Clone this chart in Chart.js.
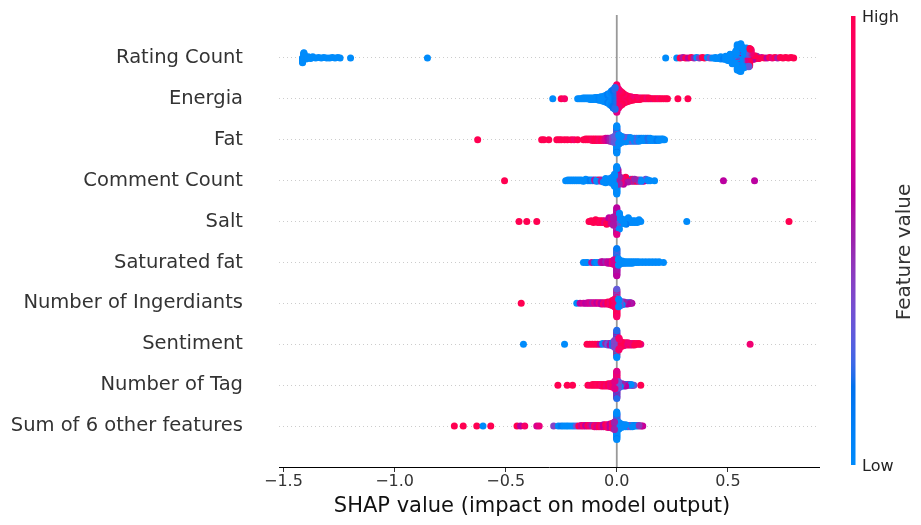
<!DOCTYPE html>
<html>
<head>
<meta charset="utf-8">
<script src="https://cdn.jsdelivr.net/npm/chart.js@4.4.1/dist/chart.umd.min.js"></script>
<style>
  html, body { margin: 0; padding: 0; background: #ffffff; }
  canvas { display: block; }
</style>
</head>
<body>
<canvas id="c" width="921" height="525"></canvas>
<script>
// Features, top row first
const features = [
  "Rating Count", "Energia", "Fat", "Comment Count", "Salt", "Saturated fat",
  "Number of Ingerdiants", "Sentiment", "Number of Tag", "Sum of 6 other features"
];
const xTicks = [-1.5, -1.0, -0.5, 0.0, 0.5];
const xTitle = "SHAP value (impact on model output)";
const colorTitle = "Feature value";

// Samples per feature: [SHAP value, feature value (0 = low .. 1 = high), number of samples]
const ratingCount = [
  [-1.414,0,10],[-1.408,0,10],[-1.398,0,3],[-1.388,0,2],[-1.378,0,2],[-1.368,0,2],[-1.355,0,1],
  [-1.342,0,1],[-1.33,0,1],[-1.318,0,1],[-1.305,0,1],[-1.292,0,1],[-1.28,0,1],[-1.268,0,1],
  [-1.255,0,1],[-1.245,0,1],[-1.198,0,1],[-0.852,0,1],
  [0.22,0,1],[0.27,0,1],[0.285,1,1],[0.298,0.55,1],[0.31,1,1],[0.322,0.6,1],[0.335,1,1],
  [0.348,0.5,1],[0.36,0,1],[0.372,0.45,1],[0.385,1,1],[0.395,1,1],[0.408,0,1],[0.42,0.35,1],
  [0.432,0,1],[0.444,0,2],[0.456,0,2],[0.468,0,3],[0.48,0.1,3],[0.49,0,4],[0.50,0,6],
  [0.51,0,8],[0.52,0,10],[0.528,0.3,4],
  [0.536,0,12],[0.542,0,12],[0.546,0.45,8],[0.552,0,12],[0.558,0,14],[0.562,0.6,8],
  [0.568,0,12],[0.574,0,10],[0.578,0.4,8],[0.584,0,10],[0.588,0.75,8],[0.594,0.3,10],
  [0.598,1,10],[0.604,0.85,8],
  [0.612,0.6,3],[0.62,1,3],[0.63,0.5,2],[0.64,1,2],[0.652,0.7,1],[0.664,1,1],[0.676,0.6,1],
  [0.688,1,1],[0.70,0.8,1],[0.712,1,1],[0.724,0.55,1],[0.736,1,1],[0.748,1,1],[0.76,1,1],
  [0.772,1,1],[0.784,1,1],[0.796,1,1]
];
const energia = [
  [-0.288,0,1],[-0.25,1,1],[-0.235,0.9,1],[-0.176,0,1],[-0.168,0,1],[-0.16,0,1],[-0.152,0,2],
  [-0.144,0,2],[-0.136,0,2],[-0.128,0,2],[-0.12,0,3],[-0.112,0,3],[-0.104,0,3],[-0.096,0,4],
  [-0.088,0,4],[-0.08,0.05,5],[-0.072,0,6],[-0.064,0,7],[-0.056,0,9],[-0.048,0,11],
  [-0.04,0.1,14],[-0.032,0,17],[-0.024,0.05,22],[-0.016,0.15,27],[-0.008,0.2,32],
  [0,0.35,10],[0,0.55,10],[0,0.75,10],[0,0.9,10],
  [0.008,0.85,28],[0.016,0.95,22],[0.024,1,18],[0.032,0.9,14],[0.04,1,11],[0.048,0.95,9],
  [0.056,1,7],[0.064,0.85,6],[0.072,1,5],[0.08,1,4],[0.088,0.9,4],[0.096,1,3],[0.104,1,3],
  [0.112,0.8,2],[0.12,1,2],[0.128,1,2],[0.136,0.85,2],[0.144,1,2],[0.152,1,1],[0.16,0.7,1],
  [0.168,1,1],[0.176,1,1],[0.184,1,1],[0.192,0.9,1],[0.2,1,1],[0.21,1,1],[0.22,1,1],
  [0.228,1,1],[0.275,1,1],[0.32,1,1]
];
const fat = [
  [-0.626,1,1],[-0.338,1,1],[-0.328,1,1],[-0.306,1,1],[-0.27,1,1],[-0.26,1,1],[-0.25,1,1],
  [-0.235,1,1],[-0.222,1,1],[-0.205,1,1],[-0.192,0.9,1],[-0.176,1,1],[-0.15,1,1],[-0.14,1,2],
  [-0.13,1,2],[-0.12,1,2],[-0.11,0.95,3],[-0.10,1,3],[-0.09,1,3],[-0.08,0.9,3],[-0.07,1,3],
  [-0.06,0.85,3],[-0.05,0.75,4],[-0.04,0.6,4],[-0.03,0.5,5],[-0.02,0.4,7],[-0.01,0.3,10],
  [0,0,12],[0,0.15,10],[0,0,10],[0,0.4,8],
  [0.01,0,14],[0.02,0,10],[0.03,0.3,8],[0.04,0,7],[0.05,0.35,6],[0.06,0,6],[0.07,0.3,5],
  [0.08,0,5],[0.09,0.25,5],[0.10,0,5],[0.11,0.1,4],[0.12,0,4],[0.13,0,4],[0.14,0.2,4],
  [0.15,0,4],[0.16,0,3],[0.17,0,3],[0.18,0.1,3],[0.19,0,3],[0.20,0,2],[0.208,0,2],[0.215,0,1]
];
const commentCount = [
  [-0.505,1,1],[-0.23,0,1],[-0.22,0,2],[-0.21,0,2],[-0.20,0,2],[-0.19,0,2],[-0.18,0,2],
  [-0.17,0,2],[-0.16,0,2],[-0.15,0,2],[-0.14,0,2],[-0.13,0,2],[-0.12,0.1,2],[-0.11,0,2],
  [-0.10,0.55,2],[-0.09,0,3],[-0.08,1,2],[-0.07,0.5,3],[-0.06,0,3],[-0.05,0,4],[-0.04,0,5],
  [-0.03,0,6],[-0.02,0,10],[-0.01,0,18],
  [0,0,14],[0,0.45,8],[0,0,10],[0.005,0.6,8],
  [0.01,0.5,12],[0.02,0.8,8],[0.03,0.6,6],[0.04,1,5],[0.05,0.55,5],[0.06,0,4],[0.07,0.9,4],
  [0.08,0.5,4],[0.09,1,3],[0.10,0.45,3],[0.11,0,3],[0.12,0.6,2],[0.13,0.3,2],[0.14,0,2],
  [0.15,0,1],[0.17,0,1],[0.48,0.6,1],[0.62,0.6,1]
];
const salt = [
  [-0.44,1,1],[-0.405,1,1],[-0.36,1,1],[-0.125,1,1],[-0.115,1,2],[-0.105,1,2],[-0.095,1,2],
  [-0.085,1,3],[-0.075,0.95,3],[-0.065,1,3],[-0.055,0.8,3],[-0.045,1,4],[-0.035,0.6,4],
  [-0.025,0.7,6],[-0.015,0.55,10],
  [0,0.5,10],[0,0.75,10],[0,0.6,10],[0.004,0.3,8],
  [0.012,0,10],[0.022,0,6],[0.032,0,5],[0.042,0.1,4],[0.052,0,4],[0.062,0,3],[0.072,0,3],
  [0.082,0,3],[0.092,0,2],[0.10,0,2],[0.108,0,1],[0.315,0,1],[0.775,1,1]
];
const saturatedFat = [
  [-0.15,0,1],[-0.138,0,1],[-0.132,0,1],[-0.113,0.55,1],[-0.10,0.1,1],[-0.09,0,1],
  [-0.081,0,1],[-0.07,0.55,2],[-0.063,0.6,2],[-0.05,0.5,2],[-0.04,0.65,3],[-0.03,0.6,3],
  [-0.02,0.85,5],[-0.012,0.7,8],
  [0,0.5,10],[0,0.3,10],[0,0.6,10],[0,0.1,10],
  [0.008,0,10],[0.016,0,5],[0.024,0,4],[0.032,0.2,3],[0.04,0,3],[0.05,0,3],[0.06,0,3],
  [0.07,0,3],[0.08,0,2],[0.09,0,2],[0.10,0,2],[0.115,0,2],[0.13,0,2],[0.145,0,2],[0.16,0,2],
  [0.175,0,2],[0.19,0,2],[0.21,0,1]
];
const numIngredients = [
  [-0.43,1,1],[-0.18,0,1],[-0.165,0.6,1],[-0.15,0.7,1],[-0.14,0.6,1],[-0.13,0.65,2],
  [-0.12,0.7,2],[-0.11,0.55,2],[-0.10,0.75,2],[-0.09,0.6,2],[-0.08,0.8,2],[-0.07,0.6,3],
  [-0.06,0.9,3],[-0.05,0.7,3],[-0.04,1,4],[-0.03,0.85,5],[-0.02,1,8],[-0.01,0.9,12],
  [0,1,10],[0,0.8,10],[0,0.9,10],[0,0.3,10],
  [0.008,0,12],[0.016,0.3,7],[0.024,0,5],[0.032,0.5,4],[0.04,0,3],[0.048,0.6,3],
  [0.056,0,2],[0.062,0.55,2],[0.068,0.6,1]
];
const sentiment = [
  [-0.42,0,1],[-0.235,0,1],[-0.134,1,1],[-0.122,1,1],[-0.11,1,1],[-0.098,1,1],[-0.086,1,1],
  [-0.074,0.6,1],[-0.063,0,2],[-0.05,0.5,2],[-0.04,0.3,3],[-0.03,0.6,3],[-0.02,0.2,5],
  [-0.01,0.4,10],
  [0,0,10],[0,0.2,10],[0,1,8],[0,0.6,8],[0.004,0,4],
  [0.01,0.9,12],[0.02,1,7],[0.03,0.8,5],[0.04,1,4],[0.05,0.85,4],[0.06,1,3],[0.07,0.75,3],
  [0.08,1,3],[0.09,0.9,2],[0.10,1,2],[0.108,0.8,1],[0.60,0.85,1]
];
const numTag = [
  [-0.265,1,1],[-0.223,1,1],[-0.199,1,1],[-0.13,1,1],[-0.118,0.9,1],[-0.108,1,2],
  [-0.098,1,2],[-0.088,0.95,2],[-0.078,1,2],[-0.068,0.9,3],[-0.058,1,3],[-0.048,0.85,3],
  [-0.038,1,4],[-0.028,0.8,5],[-0.018,0.9,7],[-0.008,0.75,12],
  [0,0.6,10],[0,0.9,10],[0,0.2,10],[0,0.75,10],
  [0.008,0.3,10],[0.016,0,5],[0.024,0.5,4],[0.032,0,3],[0.04,0.6,3],[0.048,0,2],
  [0.056,0.55,2],[0.064,0,2],[0.072,0.6,1],[0.077,0.3,1],[0.108,1,1]
];
const sumOther = [
  [-0.731,1,1],[-0.691,1,1],[-0.63,1,1],[-0.602,0,1],[-0.567,1,1],[-0.449,1,1],[-0.433,0.6,1],
  [-0.414,0.9,1],[-0.36,0.7,1],[-0.349,0.8,1],[-0.284,0.4,1],[-0.263,0,1],[-0.25,0.1,1],
  [-0.239,0,1],[-0.228,0,1],[-0.218,0,1],[-0.206,0,1],[-0.194,0,1],[-0.182,0.3,1],
  [-0.171,1,1],[-0.16,0.7,2],[-0.15,0.9,2],[-0.14,0.6,2],[-0.13,1,2],[-0.12,0.75,2],
  [-0.11,0.5,2],[-0.10,0.9,3],[-0.09,0.7,3],[-0.08,1,3],[-0.07,0.8,3],[-0.06,0.6,4],
  [-0.05,1,4],[-0.04,0.85,5],[-0.03,0.6,6],[-0.02,0.9,8],[-0.01,0.5,12],
  [0,0,12],[0,0.1,10],[0,0,10],[0,0.4,8],
  [0.01,0,10],[0.02,0,6],[0.03,0.2,4],[0.04,0,4],[0.05,0,3],[0.06,0.35,3],[0.07,0,3],
  [0.08,0.1,2],[0.09,0,2],[0.10,0.45,2],[0.11,0.6,1],[0.117,0.65,1]
];
const rows = [ratingCount, energia, fat, commentCount, salt, saturatedFat,
              numIngredients, sentiment, numTag, sumOther];

// Blue -> red colour scale built in LCH space (lightness dips towards the middle)
function lch2rgb(l, c, h) {
  const a = c * Math.cos(h), b = c * Math.sin(h);
  const fy = (l + 16) / 116, fx = fy + a / 500, fz = fy - b / 200;
  const finv = t => (t > 0.206893 ? t * t * t : (t - 16 / 116) / 7.787);
  const X = 0.95047 * finv(fx), Y = finv(fy), Z = 1.08883 * finv(fz);
  const r = 3.24048 * X - 1.53715 * Y - 0.49854 * Z;
  const g = -0.96925 * X + 1.87599 * Y + 0.04156 * Z;
  const bl = 0.05565 * X - 0.20404 * Y + 1.05731 * Z;
  const gam = v => {
    v = v > 0.0031308 ? 1.055 * Math.pow(v, 1 / 2.4) - 0.055 : 12.92 * v;
    return Math.min(1, Math.max(0, v));
  };
  return [gam(r), gam(g), gam(bl)];
}
const cmapTable = [];
(function buildTable() {
  const n = 100;
  for (let i = 0; i < n; i++) {
    const l = i < n / 2 ? 54 + (40 - 54) * i / (n / 2 - 1) : 40 + (54 - 40) * (i - n / 2) / (n / 2 - 1);
    const c = 70 + (90 - 70) * i / (n - 1);
    const h = 4.6588 + (0.35470565 + 2 * Math.PI - 4.6588) * i / (n - 1);
    cmapTable.push(lch2rgb(l, c, h));
  }
})();
function cmap(t) {
  t = Math.min(1, Math.max(0, t));
  const f = t * (cmapTable.length - 1);
  const i = Math.min(cmapTable.length - 2, Math.floor(f));
  const u = f - i;
  const a = cmapTable[i], b = cmapTable[i + 1];
  const ch = k => Math.round(255 * (a[k] + (b[k] - a[k]) * u));
  return `rgb(${ch(0)},${ch(1)},${ch(2)})`;
}

// Beeswarm layout: samples are binned along x and stacked alternately above/below the row
function swarm(rowData, rowPos) {
  const pts = [];
  const left = rowData.map(d => d[2]);
  let more = true;
  while (more) {
    more = false;
    rowData.forEach((d, i) => {
      if (left[i] > 0) { pts.push({ x: d[0], fv: d[1] }); left[i]--; more = true; }
    });
  }
  const xs = pts.map(p => p.x);
  const lo = Math.min(...xs), hi = Math.max(...xs);
  const nbins = 100;
  const quant = pts.map(p => Math.round(nbins * (p.x - lo) / (hi - lo + 1e-8)));
  const order = pts.map((p, i) => i).sort((a, b) => quant[a] - quant[b] || a - b);
  const ys = new Array(pts.length).fill(0);
  let layer = 0, last = null;
  for (const i of order) {
    if (quant[i] !== last) layer = 0;
    ys[i] = Math.ceil(layer / 2) * ((layer % 2) * 2 - 1);
    layer++;
    last = quant[i];
  }
  const maxY = Math.max(...ys);
  const s = 0.9 * 0.4 / (maxY + 1);
  return pts.map((p, i) => ({ x: p.x, y: rowPos + ys[i] * s, c: cmap(p.fv) }));
}

const datasets = rows.map((data, r) => {
  const pts = swarm(data, features.length - 1 - r);
  return {
    label: features[r],
    data: pts.map(p => ({ x: p.x, y: p.y })),
    pointBackgroundColor: pts.map(p => p.c),
    pointBorderWidth: 0,
    pointRadius: 3.5,
    pointHoverRadius: 3.5
  };
});

const FONT = "'DejaVu Sans', 'Liberation Sans', sans-serif";

// Vertical reference line at zero, behind the dots
const zeroLine = {
  id: 'zeroLine',
  beforeDatasetsDraw(chart) {
    const { ctx, chartArea, scales } = chart;
    const px = scales.x.getPixelForValue(0);
    ctx.save();
    ctx.strokeStyle = '#999999';
    ctx.lineWidth = 1.8;
    ctx.beginPath();
    ctx.moveTo(px, chartArea.top - 2);
    ctx.lineTo(px, chartArea.bottom);
    ctx.stroke();
    ctx.restore();
  }
};

// Axis title, colour bar and its Low / High labels
const annotations = {
  id: 'annotations',
  afterDraw(chart) {
    const { ctx, chartArea } = chart;
    ctx.save();
    ctx.fillStyle = '#111111';
    ctx.font = `21px ${FONT}`;
    ctx.textAlign = 'center';
    ctx.textBaseline = 'middle';
    ctx.fillText(xTitle, (chartArea.left + chartArea.right) / 2 - 17, 507);

    const x0 = chartArea.right + 32, w = 4.5;
    const top = 16, bottom = 465;
    const g = ctx.createLinearGradient(0, bottom, 0, top);
    for (let i = 0; i <= 40; i++) g.addColorStop(i / 40, cmap(i / 40));
    ctx.fillStyle = g;
    ctx.fillRect(x0, top, w, bottom - top);
    ctx.fillStyle = '#222222';
    ctx.font = `16px ${FONT}`;
    ctx.textAlign = 'left';
    ctx.fillText('High', x0 + 11, top + 2);
    ctx.fillText('Low', x0 + 11, bottom + 2);
    ctx.font = `20px ${FONT}`;
    ctx.fillStyle = '#333333';
    ctx.translate(x0 + 54, 252);
    ctx.rotate(-Math.PI / 2);
    ctx.textAlign = 'center';
    ctx.fillText(colorTitle, 0, 0);
    ctx.restore();
  }
};

new Chart(document.getElementById('c'), {
  type: 'scatter',
  data: { datasets },
  plugins: [zeroLine, annotations],
  options: {
    responsive: false,
    devicePixelRatio: 1,
    animation: false,
    events: [],
    layout: { padding: { top: 17, right: 102, bottom: 0, left: 0 } },
    plugins: { legend: { display: false }, tooltip: { enabled: false } },
    scales: {
      x: {
        type: 'linear',
        min: -1.52,
        max: 0.91,
        afterBuildTicks: ax => { ax.ticks = xTicks.map(v => ({ value: v })); },
        afterFit: s => { s.height = 58; },
        ticks: {
          color: '#333333',
          font: { family: FONT, size: 16 },
          padding: 0,
          maxRotation: 0,
          callback: v => (v < 0 ? '\u2212' : '') + Math.abs(v).toFixed(1)
        },
        grid: { drawOnChartArea: false, drawTicks: true, tickLength: 5, tickColor: '#333333', tickWidth: 1 },
        border: { display: true, color: '#000000', width: 1 }
      },
      y: {
        type: 'linear',
        min: -1,
        max: 10,
        afterBuildTicks: ax => { ax.ticks = features.map((f, i) => ({ value: features.length - 1 - i })); },
        afterFit: s => { s.width = 279; },
        ticks: {
          color: '#333333',
          font: { family: FONT, size: 19.5 },
          padding: 3,
          callback: v => features[features.length - 1 - v]
        },
        grid: { color: '#cccccc', lineWidth: 1, drawTicks: true, tickLength: 33, tickColor: 'rgba(0,0,0,0)' },
        border: { display: false, dash: [1, 3] }
      }
    }
  }
});
</script>
